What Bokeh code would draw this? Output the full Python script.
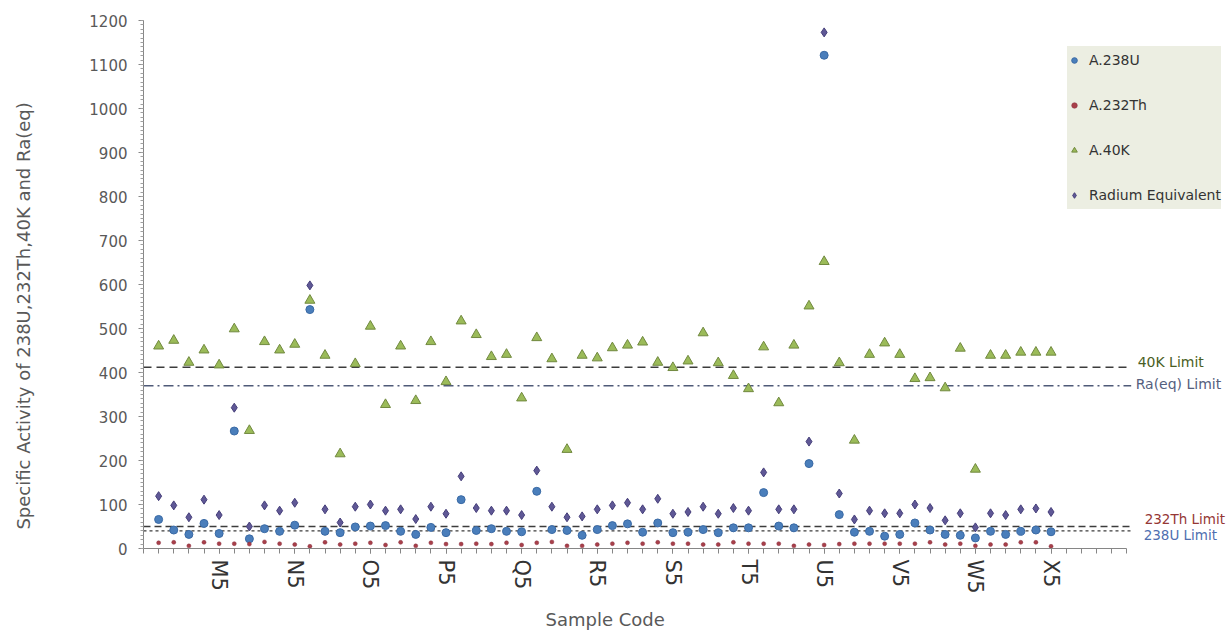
from bokeh.plotting import figure
from bokeh.models import (Range1d, FixedTicker, Label, Legend, LegendItem,
                          ColumnDataSource, Title)
from bokeh.embed import file_html
from bokeh.resources import INLINE

# ---------------- data ----------------
samples = ["M1", "M2", "M3", "M4", "M5", "N1", "N2", "N3", "N4", "N5",
           "O1", "O2", "O3", "O4", "O5", "P1", "P2", "P3", "P4", "P5",
           "Q1", "Q2", "Q3", "Q4", "Q5", "R1", "R2", "R3", "R4", "R5",
           "S1", "S2", "S3", "S4", "S5", "T1", "T2", "T3", "T4", "T5",
           "U1", "U2", "U3", "U4", "U5", "V1", "V2", "V3", "V4", "V5",
           "W1", "W2", "W3", "W4", "W5", "X1", "X2", "X3", "X4", "X5"]

u238 = [66, 42, 32, 57, 34, 267, 22, 45, 39, 53,
        543, 39, 36, 49, 51, 52, 39, 32, 48, 36,
        111, 41, 45, 39, 38, 130, 43, 41, 30, 43,
        52, 56, 37, 58, 36, 37, 43, 36, 47, 47,
        127, 51, 47, 193, 1121, 77, 37, 39, 28, 32,
        58, 42, 32, 30, 24, 39, 32, 39, 42, 38]

th232 = [13, 14, 6, 14, 11, 11, 10, 15, 11, 9,
         5, 14, 9, 11, 13, 8, 14, 6, 13, 10,
         10, 11, 10, 13, 8, 13, 15, 6, 6, 9,
         11, 13, 11, 14, 11, 11, 9, 9, 14, 11,
         11, 11, 6, 9, 8, 10, 11, 11, 11, 11,
         11, 14, 9, 11, 6, 9, 9, 14, 14, 5]

k40 = [460, 473, 423, 451, 417, 499, 268, 470, 451, 464,
       564, 439, 215, 420, 505, 327, 460, 336, 470, 379,
       517, 486, 436, 441, 342, 479, 431, 225, 439, 433,
       456, 462, 469, 423, 411, 426, 490, 422, 393, 363,
       458, 331, 462, 551, 652, 422, 246, 441, 467, 441,
       386, 388, 365, 455, 180, 439, 439, 446, 446, 446]

ra_eq = [119, 98, 71, 111, 76, 320, 50, 98, 86, 104,
         598, 89, 59, 95, 100, 86, 89, 67, 95, 79,
         164, 92, 86, 86, 76, 177, 95, 71, 73, 89,
         98, 104, 89, 113, 79, 83, 95, 79, 92, 86,
         173, 89, 89, 243, 1173, 125, 66, 86, 80, 80,
         100, 92, 64, 80, 48, 80, 76, 89, 91, 83]

tick_labels = ["M5", "N5", "O5", "P5", "Q5", "R5", "S5", "T5", "U5", "V5", "W5", "X5"]

limit_names = ["40K Limit", "Ra(eq) Limit", "232Th Limit", "238U Limit"]
limit_values = [412, 370, 50, 40]

y_ticks = list(range(0, 1201, 100))

# ---------------- layout ----------------
FONT = "DejaVu Sans"
AXIS_END = len(samples) + 5          # axis runs 5 empty slots past the last sample
VIEW_END = 71.8                      # extra room on the right for legend / limit labels
xs = list(range(1, len(samples) + 1))
tick_pos = [samples.index(t) + 1 for t in tick_labels]

src = ColumnDataSource(dict(x=xs, u=u238, th=th232, k=k40, ra=ra_eq))

p = figure(width=1229, height=639, x_range=Range1d(0, VIEW_END), y_range=Range1d(0, 1200),
           output_backend="svg", toolbar_location=None,
           min_border_left=143, min_border_right=0, min_border_top=20, min_border_bottom=90)
p.outline_line_color = None
p.xgrid.visible = False
p.ygrid.visible = False

# limit lines
limit_styles = [
    dict(color="#3c3c3c", dash="8 5", width=1.4, text_color="#4a5e23", xo=11, yo=5, fs="14px"),
    dict(color="#4f5a78", dash="10 4 2 4", width=1.4, text_color="#55607e", xo=9, yo=2, fs="14px"),
    dict(color="#3c3c3c", dash="7 4", width=1.3, text_color="#953735", xo=18, yo=8, fs="13.5px"),
    dict(color="#3c3c3c", dash="3 3", width=1.2, text_color="#4f6fb0", xo=17, yo=-4, fs="13.5px"),
]
for name, val, st in zip(limit_names, limit_values, limit_styles):
    p.line(x=[0, AXIS_END + 0.3], y=[val, val], line_color=st["color"],
           line_dash=st["dash"], line_width=st["width"])
    p.add_layout(Label(x=AXIS_END, y=val, x_offset=st["xo"], y_offset=st["yo"], text=name,
                       text_color=st["text_color"], text_font=FONT, text_font_size=st["fs"],
                       text_baseline="middle", text_align="left"))

r_k = p.scatter("x", "k", source=src, marker="triangle", size=10,
                fill_color="#9bbb59", line_color="#71893f", line_width=1)
r_ra = p.scatter("x", "ra", source=src, marker="diamond", size=9,
                 fill_color="#5f5896", line_color="#463f7a", line_width=1)
r_u = p.scatter("x", "u", source=src, marker="circle", size=8,
                fill_color="#4a7ebb", line_color="#3a6aa5", line_width=1)
r_th = p.scatter("x", "th", source=src, marker="circle", size=4,
                 fill_color="#a8404a", line_color="#8a3040", line_width=0.5)

# axes
for ax in (p.xaxis[0], p.yaxis[0]):
    ax.axis_line_color = "#868686"
    ax.major_tick_line_color = "#868686"
    ax.minor_tick_line_color = "#a0a0a0"
    ax.major_tick_in = 0
    ax.minor_tick_in = 0
    ax.major_label_text_font = FONT
    ax.axis_label_text_font = FONT
    ax.axis_label_text_font_style = "normal"
    ax.axis_label_text_color = "#595959"

xa = p.xaxis[0]
xa.bounds = (0, AXIS_END)
xa.ticker = FixedTicker(ticks=tick_pos, minor_ticks=list(range(0, AXIS_END + 1)))
xa.major_label_overrides = {pos: lab for pos, lab in zip(tick_pos, tick_labels)}
xa.major_label_orientation = "vertical"
xa.major_label_text_baseline = "middle"
xa.major_label_text_font_size = "21px"
xa.major_label_text_color = "#333333"
xa.major_tick_out = 5
xa.minor_tick_out = 5
xa.minor_tick_line_color = "#868686"
xa.major_label_standoff = 6

# x-axis title, placed under the axis span (which is narrower than the view)
p.add_layout(Title(text="Sample Code", align="left", offset=402, standoff=20,
                   vertical_align="bottom", text_font=FONT, text_font_size="18px",
                   text_font_style="normal", text_color="#595959"), "below")

NBSP = "\u00a0"
ya = p.yaxis[0]
ya.ticker = FixedTicker(ticks=y_ticks, minor_ticks=list(range(0, 1201, 10)))
ya.major_label_text_font_size = "15px"
ya.major_label_text_color = "#595959"
ya.major_tick_out = 5
ya.minor_tick_out = 3
ya.major_label_standoff = 11
ya.axis_label = "Specific Activity of 238U,232Th,40K and Ra(eq)" + NBSP * 11
ya.axis_label_text_font_size = "18px"
ya.axis_label_standoff = 52

legend = Legend(items=[
    LegendItem(label="A.238U", renderers=[r_u]),
    LegendItem(label="A.232Th", renderers=[r_th]),
    LegendItem(label="A.40K", renderers=[r_k]),
    LegendItem(label="Radium Equivalent", renderers=[r_ra]),
], location=(924, 339), background_fill_color="#eceee2", background_fill_alpha=1,
    border_line_color=None, label_text_font=FONT, label_text_font_size="14px",
    label_text_color="#333333", glyph_width=14, glyph_height=28, label_height=28,
    spacing=17, padding=5, label_standoff=8, margin=0)
p.add_layout(legend)

open("out.html", "w").write(file_html(p, INLINE))
